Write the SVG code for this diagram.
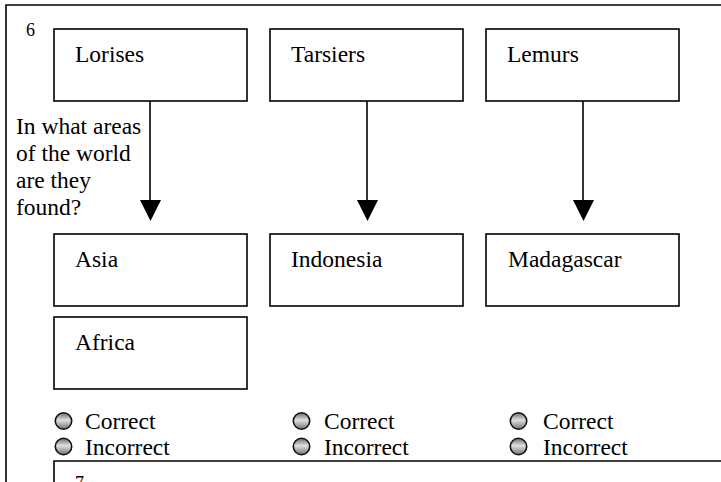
<svg xmlns="http://www.w3.org/2000/svg" width="721" height="482" viewBox="0 0 721 482">
<style>
.box{fill:#fff;stroke:#000;stroke-width:1.6}
.t{font-family:"Liberation Serif","Times New Roman",serif;font-size:23.5px;fill:#000}
.n{font-family:"Liberation Serif","Times New Roman",serif;font-size:18px;fill:#000}
.rb{fill:url(#rg);stroke:#111;stroke-width:1.6}
.ln{stroke:#000;stroke-width:1.6;fill:none}
</style>
<defs>
<linearGradient id="rg" x1="0" y1="0" x2="0" y2="1">
<stop offset="0" stop-color="#6a6a6a"/>
<stop offset="0.45" stop-color="#e0e0e0"/>
<stop offset="1" stop-color="#707070"/>
</linearGradient>
</defs>
<g id="frame">
<path class="ln" d="M6,482 L6,5 L721,5"/>
<text class="n" x="26" y="36">6</text>
</g>
<g id="lorises"><rect class="box" x="54" y="29" width="193" height="72"/><text class="t" x="75" y="62">Lorises</text></g>
<g id="tarsiers"><rect class="box" x="270" y="29" width="193" height="72"/><text class="t" x="291" y="62">Tarsiers</text></g>
<g id="lemurs"><rect class="box" x="486" y="29" width="193" height="72"/><text class="t" x="507" y="62">Lemurs</text></g>
<g id="question">
<text class="t" x="16" y="134">In what areas</text>
<text class="t" x="16" y="161">of the world</text>
<text class="t" x="16" y="188">are they</text>
<text class="t" x="16" y="215">found?</text>
</g>
<g id="connectors">
<line class="ln" x1="150" y1="101" x2="150" y2="200"/>
<path d="M140,200 L161,200 L150.5,221 Z" fill="#000"/>
<line class="ln" x1="367" y1="101" x2="367" y2="200"/>
<path d="M357,200 L378,200 L367.5,221 Z" fill="#000"/>
<line class="ln" x1="583" y1="101" x2="583" y2="200"/>
<path d="M573,200 L594,200 L583.5,221 Z" fill="#000"/>
</g>
<g id="asia"><rect class="box" x="54" y="234" width="193" height="72"/><text class="t" x="75" y="267">Asia</text></g>
<g id="indonesia"><rect class="box" x="270" y="234" width="193" height="72"/><text class="t" x="291" y="267">Indonesia</text></g>
<g id="madagascar"><rect class="box" x="486" y="234" width="193" height="72"/><text class="t" x="508" y="267">Madagascar</text></g>
<g id="africa"><rect class="box" x="54" y="317" width="193" height="72"/><text class="t" x="75" y="350">Africa</text></g>
<g id="radios1">
<circle class="rb" cx="63.5" cy="421" r="8.2"/><text class="t" x="85" y="429">Correct</text>
<circle class="rb" cx="63.5" cy="446.5" r="8.2"/><text class="t" x="85" y="455">Incorrect</text>
</g>
<g id="radios2">
<circle class="rb" cx="301.5" cy="421" r="8.2"/><text class="t" x="324" y="429">Correct</text>
<circle class="rb" cx="301.5" cy="446.5" r="8.2"/><text class="t" x="324" y="455">Incorrect</text>
</g>
<g id="radios3">
<circle class="rb" cx="518.5" cy="421" r="8.2"/><text class="t" x="543" y="429">Correct</text>
<circle class="rb" cx="518.5" cy="446.5" r="8.2"/><text class="t" x="543" y="455">Incorrect</text>
</g>
<g id="next">
<path class="ln" d="M54,482 L54,461 L721,461"/>
<text class="n" x="75" y="489">7</text>
</g>
</svg>
